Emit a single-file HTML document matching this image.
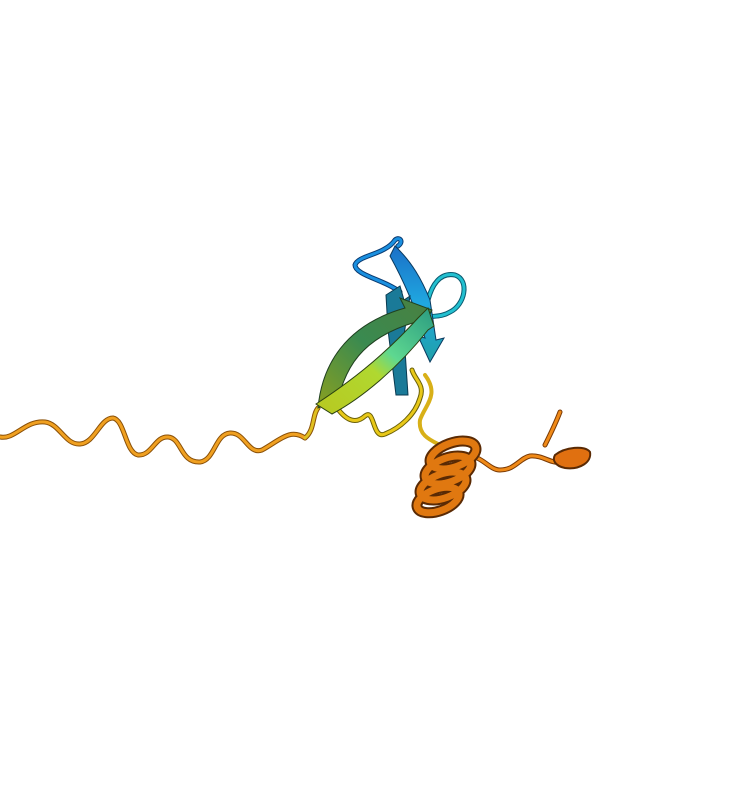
<!DOCTYPE html>
<html><head><meta charset="utf-8"><style>html,body{margin:0;padding:0;background:#fff;width:730px;height:804px;overflow:hidden}</style></head>
<body>
<svg width="730" height="804" viewBox="0 0 730 804" xmlns="http://www.w3.org/2000/svg">
<defs>
<linearGradient id="lowstrand" x1="0" y1="1" x2="1" y2="0">
<stop offset="0" stop-color="#b8c820"/><stop offset="0.45" stop-color="#b0d830"/><stop offset="0.6" stop-color="#5ed890"/><stop offset="1" stop-color="#2a9a80"/></linearGradient>
<linearGradient id="upstrand" x1="0" y1="1" x2="1" y2="0">
<stop offset="0" stop-color="#8aa020"/><stop offset="0.5" stop-color="#3a8a50"/><stop offset="1" stop-color="#4a8040"/></linearGradient>
<linearGradient id="bluestrand" x1="0" y1="0" x2="0" y2="1">
<stop offset="0" stop-color="#1a70c8"/><stop offset="0.5" stop-color="#20a8e0"/><stop offset="1" stop-color="#20a0a8"/></linearGradient>
</defs>
<g fill="none" stroke-linecap="round" stroke-linejoin="round">
<path d="M0,437 C15,440 25,420 45,422 C60,424 65,445 80,444 C95,443 100,418 113,418 C125,420 125,452 138,455 C152,456 155,436 168,437 C182,438 180,463 200,462 C215,460 215,434 230,433 C245,432 248,455 262,450 C280,440 290,428 305,438 C315,430 312,415 318,408" stroke="#8a5008" stroke-width="5"/>
<path d="M0,437 C15,440 25,420 45,422 C60,424 65,445 80,444 C95,443 100,418 113,418 C125,420 125,452 138,455 C152,456 155,436 168,437 C182,438 180,463 200,462 C215,460 215,434 230,433 C245,432 248,455 262,450 C280,440 290,428 305,438" stroke="#f0a020" stroke-width="3"/>
<path d="M305,438 C315,430 312,415 318,408" stroke="#e0c020" stroke-width="3"/>
<path d="M335,405 C345,420 355,425 365,416 C375,408 372,440 385,434 C400,428 415,415 420,398 C425,385 415,380 412,370" stroke="#6a6008" stroke-width="5"/>
<path d="M335,405 C345,420 355,425 365,416 C375,408 372,440 385,434 C400,428 415,415 420,398 C425,385 415,380 412,370" stroke="#e8c818" stroke-width="3"/>
<path d="M425,375 C440,395 425,405 420,420 C418,435 430,440 440,445" stroke="#d8b018" stroke-width="4"/>
<path d="M428,300 C432,285 440,272 455,275 C470,280 465,305 450,312 C440,318 432,315 425,318" stroke="#0a5a70" stroke-width="5"/>
<path d="M428,300 C432,285 440,272 455,275 C470,280 465,305 450,312 C440,318 432,315 425,318" stroke="#22c0d0" stroke-width="3"/>
<path d="M400,292 C385,280 355,275 355,265 C358,255 385,255 395,240 C400,236 404,242 398,246" stroke="#0a3a70" stroke-width="5"/>
<path d="M400,292 C385,280 355,275 355,265 C358,255 385,255 395,240 C400,236 404,242 398,246" stroke="#1a90e0" stroke-width="3"/>
<path d="M465,458 C480,452 488,470 500,470 C515,470 520,458 530,456 C545,455 550,465 565,462 M545,445 C550,435 555,425 560,412" stroke="#7a3a05" stroke-width="5"/>
<path d="M465,458 C480,452 488,470 500,470 C515,470 520,458 530,456 C545,455 550,465 565,462 M545,445 C550,435 555,425 560,412" stroke="#f08a18" stroke-width="3"/>
</g>
<path d="M395,246 C412,262 422,280 430,300 L436,340 L444,338 L430,362 L418,336 L425,338 C416,310 406,285 390,256 Z" fill="url(#bluestrand)" stroke="#0a3a60" stroke-width="1"/>
<path d="M386,295 L400,286 L404,300 L410,296 L404,335 L408,395 L396,395 L388,330 Z" fill="#1a7a98" stroke="#0a3a50" stroke-width="1"/>
<path d="M318,408 C322,365 345,325 405,308 L400,298 L432,310 L420,334 L416,322 C360,338 345,370 338,400 Z" fill="url(#upstrand)" stroke="#1f4020" stroke-width="1"/>
<path d="M316,404 C345,385 380,360 418,318 L428,308 L434,326 L428,330 C398,368 362,398 332,414 Z" fill="url(#lowstrand)" stroke="#2a4010" stroke-width="1"/>
<g fill="none">
<g stroke="#5a2a04" stroke-width="11">
<ellipse cx="453" cy="455" rx="24" ry="12" transform="rotate(-20 453 455)"/>
<ellipse cx="448" cy="470" rx="24" ry="12" transform="rotate(-20 448 470)"/>
<ellipse cx="443" cy="486" rx="24" ry="12" transform="rotate(-20 443 486)"/>
<ellipse cx="438" cy="500" rx="22" ry="11" transform="rotate(-20 438 500)"/>
</g>
<g stroke="#e07810" stroke-width="7">
<ellipse cx="453" cy="455" rx="24" ry="12" transform="rotate(-20 453 455)"/>
<ellipse cx="448" cy="470" rx="24" ry="12" transform="rotate(-20 448 470)"/>
<ellipse cx="443" cy="486" rx="24" ry="12" transform="rotate(-20 443 486)"/>
<ellipse cx="438" cy="500" rx="22" ry="11" transform="rotate(-20 438 500)"/>
</g>
</g>
<path d="M555,455 C565,447 585,445 590,452 C592,462 580,470 565,468 C555,466 552,460 555,455 Z" fill="#e07010" stroke="#5a2a04" stroke-width="2"/>
</svg>
</body></html>
